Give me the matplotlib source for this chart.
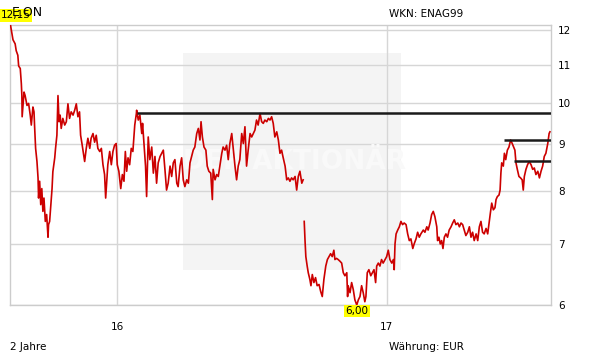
import matplotlib
matplotlib.use("Agg")
import matplotlib.pyplot as plt
from matplotlib.patches import Rectangle

# E.ON share price, 2 years (x in decimal years)
years_before_spinoff = [
    2015.604, 2015.613, 2015.621, 2015.625, 2015.631, 2015.634, 2015.640, 2015.644, 2015.646, 2015.647,
    2015.654, 2015.658, 2015.665, 2015.671, 2015.677, 2015.681, 2015.687, 2015.691, 2015.693, 2015.697,
    2015.702, 2015.706, 2015.708, 2015.712, 2015.716, 2015.720, 2015.724, 2015.728, 2015.733, 2015.738,
    2015.743, 2015.745, 2015.749, 2015.753, 2015.758, 2015.761, 2015.768, 2015.771, 2015.776, 2015.780,
    2015.784, 2015.788, 2015.792, 2015.798, 2015.805, 2015.811, 2015.817, 2015.823, 2015.829, 2015.836,
    2015.842, 2015.848, 2015.854, 2015.860, 2015.864, 2015.869, 2015.875, 2015.879, 2015.885, 2015.891,
    2015.898, 2015.903, 2015.910, 2015.916, 2015.922, 2015.928, 2015.935, 2015.941, 2015.947, 2015.953,
    2015.957, 2015.962, 2015.965, 2015.972, 2015.978, 2015.984, 2015.990, 2015.996, 2016.000, 2016.006,
    2016.013, 2016.019, 2016.025, 2016.030, 2016.035, 2016.040, 2016.046, 2016.052, 2016.058, 2016.065,
    2016.071, 2016.072, 2016.078, 2016.084, 2016.091, 2016.094, 2016.099, 2016.105, 2016.109, 2016.115,
    2016.121, 2016.128, 2016.134, 2016.140, 2016.146, 2016.152, 2016.159, 2016.165, 2016.171, 2016.177,
    2016.183, 2016.189, 2016.196, 2016.202, 2016.208, 2016.214, 2016.221, 2016.226, 2016.233, 2016.239,
    2016.245, 2016.251, 2016.258, 2016.264, 2016.270, 2016.276, 2016.282, 2016.288, 2016.295, 2016.301,
    2016.307, 2016.311, 2016.316, 2016.322, 2016.329, 2016.334, 2016.340, 2016.347, 2016.353, 2016.356,
    2016.363, 2016.369, 2016.375, 2016.381, 2016.388, 2016.393, 2016.400, 2016.406, 2016.412, 2016.418,
    2016.425, 2016.431, 2016.437, 2016.443, 2016.449, 2016.455, 2016.462, 2016.468, 2016.474, 2016.480,
    2016.486, 2016.493, 2016.499, 2016.505, 2016.511, 2016.517, 2016.523, 2016.530, 2016.536, 2016.542,
    2016.548, 2016.555, 2016.561, 2016.567, 2016.573, 2016.579, 2016.585, 2016.592, 2016.598, 2016.604,
    2016.610, 2016.616, 2016.623, 2016.629, 2016.635, 2016.641, 2016.647, 2016.653, 2016.660, 2016.666,
    2016.672, 2016.678, 2016.685, 2016.690,
]
prices_before_spinoff = [
    12.15, 11.72, 11.60, 11.40, 11.27, 10.97, 10.90, 10.49, 10.18, 9.65,
    10.27, 10.18, 9.93, 9.98, 9.69, 9.45, 9.89, 9.77, 9.45, 8.91,
    8.62, 8.27, 7.86, 8.20, 7.73, 8.05, 7.60, 7.86, 7.41, 7.54,
    7.12, 7.35, 7.41, 7.70, 8.05, 8.40, 8.70, 8.91, 9.21, 10.18,
    9.53, 9.69, 9.37, 9.61, 9.45, 9.53, 9.97, 9.61, 9.77, 9.69,
    9.81, 9.97, 9.65, 9.77, 9.21, 9.02, 8.77, 8.62, 8.91, 9.14,
    8.91, 9.14, 9.25, 9.05, 9.21, 8.91, 8.84, 8.91, 8.55, 8.34,
    7.86, 8.27, 8.55, 8.84, 8.55, 8.84, 8.98, 9.02, 8.55, 8.41,
    8.05, 8.34, 8.20, 8.84, 8.41, 8.70, 8.55, 8.91, 8.84, 9.45,
    9.73, 9.81, 9.57, 9.69, 9.25, 9.49, 9.02, 8.52, 7.89, 9.17,
    8.66, 8.94, 8.37, 8.73, 8.16, 8.59, 8.73, 8.80, 8.87, 8.45,
    8.02, 8.16, 8.52, 8.30, 8.59, 8.66, 8.16, 8.09, 8.52, 8.70,
    8.23, 8.09, 8.23, 8.16, 8.59, 8.73, 8.87, 8.94, 9.25, 9.37,
    9.10, 9.53, 9.17, 8.94, 8.87, 8.52, 8.41, 8.37, 7.83, 8.45,
    8.23, 8.34, 8.30, 8.52, 8.80, 8.94, 8.87, 8.98, 8.66, 9.02,
    9.25, 8.87, 8.52, 8.23, 8.52, 8.66, 9.25, 9.02, 9.41, 8.52,
    8.87, 9.25, 9.17, 9.25, 9.33, 9.57, 9.45, 9.73, 9.53, 9.49,
    9.57, 9.53, 9.61, 9.57, 9.65, 9.49, 9.17, 9.29, 9.10, 8.80,
    8.87, 8.70, 8.52, 8.23, 8.27, 8.20, 8.27, 8.23, 8.30, 8.02,
    8.30, 8.41, 8.16, 8.23,
]

years_after_spinoff = [
    2016.694, 2016.697, 2016.700, 2016.705, 2016.709, 2016.715, 2016.719, 2016.724, 2016.730, 2016.736,
    2016.742, 2016.749, 2016.755, 2016.761, 2016.767, 2016.774, 2016.780, 2016.786, 2016.792, 2016.798,
    2016.804, 2016.808, 2016.814, 2016.820, 2016.827, 2016.833, 2016.839, 2016.845, 2016.852, 2016.855,
    2016.857, 2016.864, 2016.870, 2016.876, 2016.882, 2016.889, 2016.895, 2016.901, 2016.907, 2016.913,
    2016.919, 2016.923, 2016.928, 2016.934, 2016.941, 2016.947, 2016.953, 2016.959, 2016.963, 2016.969,
    2016.975, 2016.981, 2016.987, 2016.994, 2017.000, 2017.006, 2017.012, 2017.019, 2017.025, 2017.028,
    2017.031, 2017.035, 2017.041, 2017.047, 2017.053, 2017.059, 2017.065, 2017.072, 2017.078, 2017.084,
    2017.090, 2017.097, 2017.102, 2017.109, 2017.115, 2017.121, 2017.127, 2017.136, 2017.142, 2017.149,
    2017.154, 2017.161, 2017.167, 2017.173, 2017.179, 2017.186, 2017.189, 2017.194, 2017.199, 2017.204,
    2017.209, 2017.214, 2017.220, 2017.226, 2017.232, 2017.239, 2017.245, 2017.251, 2017.257, 2017.264,
    2017.270, 2017.276, 2017.282, 2017.288, 2017.294, 2017.301, 2017.307, 2017.313, 2017.319, 2017.325,
    2017.332, 2017.338, 2017.344, 2017.350, 2017.356, 2017.362, 2017.369, 2017.375, 2017.380, 2017.385,
    2017.390, 2017.396, 2017.402, 2017.406, 2017.411, 2017.417, 2017.421, 2017.424, 2017.427, 2017.433,
    2017.437, 2017.442, 2017.448, 2017.454, 2017.460, 2017.466, 2017.473, 2017.476, 2017.480, 2017.485,
    2017.491, 2017.497, 2017.503, 2017.507, 2017.511, 2017.517, 2017.523, 2017.529, 2017.536, 2017.542,
    2017.548, 2017.554, 2017.561, 2017.567, 2017.573, 2017.579, 2017.585, 2017.591, 2017.598, 2017.603,
    2017.606,
]
prices_after_spinoff = [
    7.41, 7.06, 6.78, 6.62, 6.51, 6.40, 6.30, 6.48, 6.35, 6.43,
    6.30, 6.32, 6.21, 6.13, 6.40, 6.62, 6.73, 6.78, 6.83, 6.78,
    6.89, 6.73, 6.75, 6.73, 6.70, 6.67, 6.51, 6.46, 6.51, 6.13,
    6.30, 6.19, 6.35, 6.24, 6.08, 6.00, 6.08, 6.13, 6.30, 6.19,
    6.05, 6.13, 6.51, 6.56, 6.46, 6.51, 6.56, 6.35, 6.62, 6.67,
    6.62, 6.73, 6.67, 6.73, 6.78, 6.89, 6.73, 6.67, 6.73, 6.56,
    7.00, 7.18, 7.25, 7.31, 7.41, 7.35, 7.38, 7.35, 7.18, 7.06,
    7.09, 6.92, 7.00, 7.09, 7.21, 7.12, 7.18, 7.25, 7.21, 7.31,
    7.25, 7.38, 7.54, 7.60, 7.50, 7.31, 7.06, 7.12, 7.00, 7.06,
    6.92, 7.12, 7.18, 7.12, 7.25, 7.31, 7.38, 7.44, 7.35, 7.38,
    7.31, 7.38, 7.35, 7.25, 7.15, 7.21, 7.31, 7.12, 7.21, 7.06,
    7.18, 7.06, 7.31, 7.41, 7.21, 7.18, 7.28, 7.18, 7.38, 7.57,
    7.76, 7.63, 7.67, 7.83, 7.89, 7.92, 8.02, 8.37, 8.59, 8.52,
    8.80, 8.66, 8.87, 8.94, 9.10, 9.02, 8.91, 8.87, 8.59, 8.45,
    8.30, 8.27, 8.23, 8.02, 8.30, 8.45, 8.55, 8.62, 8.55, 8.45,
    8.48, 8.34, 8.41, 8.27, 8.41, 8.52, 8.73, 8.80, 9.02, 9.25,
    9.29,
]

# horizontal marker lines drawn on the chart (level, first year)
line_levels = [9.73, 9.11, 8.62]
line_starts = [2016.073, 2017.436, 2017.473]

y_ticks = [6, 7, 8, 9, 10, 11, 12]
x_ticks = [2016, 2017]
x_tick_labels = ["16", "17"]

high_label = "12,15"
low_label = "6,00"


def main() -> None:
    plt.rcParams["font.family"] = ["DejaVu Sans"]
    x_min, x_max = 2015.602, 2017.610

    fig = plt.figure(figsize=(6.11, 3.64), dpi=100)
    ax = fig.add_axes([0.0164, 0.162, 0.8854, 0.768])

    ax.set_yscale("log")
    ax.set_xlim(x_min, x_max)
    ax.set_ylim(6.0, 12.15)

    # watermark box, barely visible
    ax.add_patch(Rectangle((0.32, 0.125), 0.403, 0.778, transform=ax.transAxes,
                           facecolor="#f4f4f4", edgecolor="none", zorder=0))
    ax.text(0.525, 0.51, "DER AKTIONÄR", transform=ax.transAxes, ha="center", va="center",
            fontsize=19, fontweight="bold", color="#f9f9f9", zorder=0.6)

    ax.set_axisbelow(True)
    ax.grid(True, which="major", color="#d6d6d6", linewidth=1.0)
    ax.minorticks_off()
    ax.set_yticks(y_ticks)
    ax.set_yticklabels([str(v) for v in y_ticks])
    ax.set_xticks(x_ticks)
    ax.set_xticklabels(x_tick_labels)
    ax.yaxis.tick_right()
    ax.tick_params(axis="y", length=0, pad=5, labelsize=7.5)
    ax.tick_params(axis="x", length=0, pad=12, labelsize=7.5)
    for spine in ax.spines.values():
        spine.set_color("#cccccc")
        spine.set_linewidth(1.0)

    ax.plot(years_before_spinoff, prices_before_spinoff, color="#cc0000", linewidth=1.2, zorder=3)
    ax.plot(years_after_spinoff, prices_after_spinoff, color="#cc0000", linewidth=1.2, zorder=3)

    for level, start in zip(line_levels, line_starts):
        ax.hlines(level, start, x_max, color="#1a1a1a", linewidth=1.8, zorder=4)

    label_box = dict(boxstyle="square,pad=0.12", facecolor="#ffff00", edgecolor="none")
    ax.annotate(high_label, xy=(years_before_spinoff[0], prices_before_spinoff[0]),
                xytext=(5, 10), textcoords="offset pixels", ha="center", va="center",
                fontsize=7.5, bbox=label_box, annotation_clip=False, zorder=6)
    low_idx = prices_after_spinoff.index(min(prices_after_spinoff))
    ax.annotate(low_label, xy=(years_after_spinoff[low_idx], prices_after_spinoff[low_idx]),
                xytext=(0, -6), textcoords="offset pixels", ha="center", va="center",
                fontsize=7.5, bbox=label_box, annotation_clip=False, zorder=6)

    fig.text(12 / 611, 1 - 12 / 364, "E.ON", fontsize=9, ha="left", va="center", zorder=1)
    fig.text(389 / 611, 1 - 14 / 364, "WKN: ENAG99", fontsize=7.5, ha="left", va="center")
    fig.text(10 / 611, 1 - 347 / 364, "2 Jahre", fontsize=7.5, ha="left", va="center")
    fig.text(389 / 611, 1 - 347 / 364, "Währung: EUR", fontsize=7.5, ha="left", va="center")

    fig.savefig("out.png", dpi=100)


if __name__ == "__main__":
    main()
